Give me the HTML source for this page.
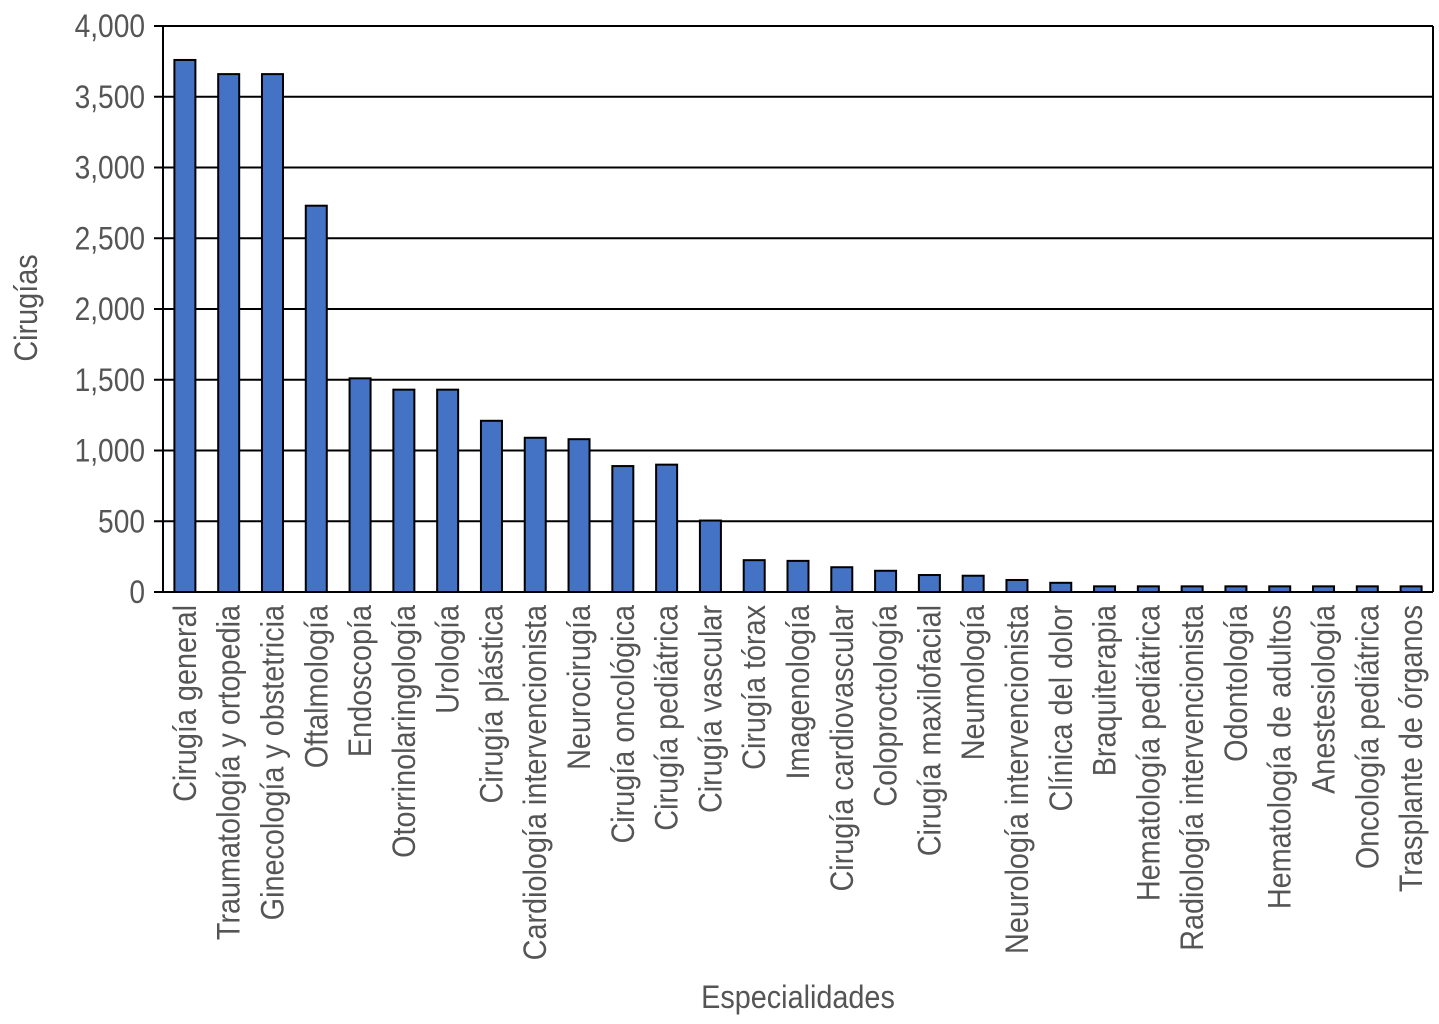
<!DOCTYPE html>
<html><head><meta charset="utf-8"><style>html,body{margin:0;padding:0;background:#fff}svg{display:block}</style></head>
<body>
<svg width="1439" height="1024" xmlns="http://www.w3.org/2000/svg" font-family="'Liberation Sans', sans-serif">
<g id="grid" stroke="#000" stroke-width="2"></g>
<g id="bars"></g>
<g id="labels" fill="#555" font-size="32"></g>
<text transform="translate(37 308) rotate(-90) scale(0.9 1)" text-anchor="middle" font-size="32" fill="#555">Cirugías</text>
<text transform="translate(798 1008) scale(0.9 1)" text-anchor="middle" font-size="32" fill="#555">Especialidades</text>
<script>
var ns="http://www.w3.org/2000/svg";
function el(t,a,p,txt){var e=document.createElementNS(ns,t);for(var k in a)e.setAttribute(k,a[k]);if(txt)e.textContent=txt;document.getElementById(p).appendChild(e);return e;}
var L=163,R=1433,T=26,B=592,sc=(B-T)/4000;
for(var v=0;v<=4000;v+=500){var y=B-v*sc;el('line',{x1:154,x2:R,y1:y,y2:y},'grid');
el('text',{transform:'translate(145 '+(y+11)+') scale(0.88 1)','text-anchor':'end'},'labels',v==0?'0':v.toLocaleString('en-US'));}
el('line',{x1:L,x2:L,y1:T,y2:B},'grid');el('line',{x1:R,x2:R,y1:T,y2:B},'grid');
var d=[["Cirugía general",3760],["Traumatología y ortopedia",3660],["Ginecología y obstetricia",3660],["Oftalmología",2730],["Endoscopía",1510],["Otorrinolaringología",1430],["Urología",1430],["Cirugía plástica",1210],["Cardiología intervencionista",1090],["Neurocirugía",1080],["Cirugía oncológica",890],["Cirugía pediátrica",900],["Cirugía vascular",505],["Cirugía tórax",225],["Imagenología",220],["Cirugía cardiovascular",175],["Coloproctología",150],["Cirugía maxilofacial",120],["Neumología",115],["Neurología intervencionista",85],["Clínica del dolor",65],["Braquiterapia",40],["Hematología pediátrica",40],["Radiología intervencionista",40],["Odontología",40],["Hematología de adultos",40],["Anestesiología",40],["Oncología pediátrica",40],["Trasplante de órganos",40]];
var w=(R-L)/29;
d.forEach(function(r,i){var c=L+w*(i+0.5);var h=r[1]*sc;
el('rect',{x:c-10.5,y:B-h,width:21,height:h,fill:'#4472c4',stroke:'#000','stroke-width':2},'bars');
var tx=c+11,ty=605;el('text',{transform:'translate('+tx+' '+ty+') rotate(-90) scale(0.9 1)','text-anchor':'end'},'labels',r[0]);});
</script>
</svg>
</body></html>
